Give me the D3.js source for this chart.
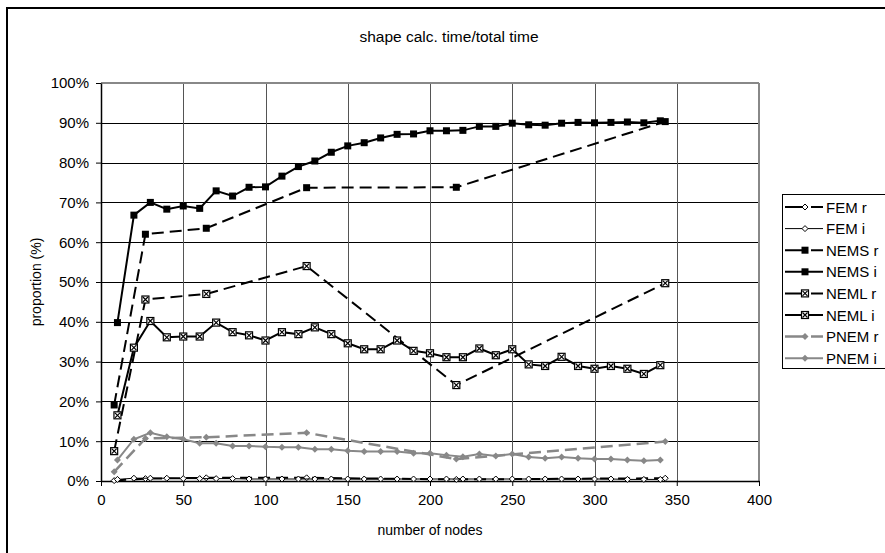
<!DOCTYPE html>
<html>
<head>
<meta charset="utf-8">
<script src="https://cdn.jsdelivr.net/npm/d3@7"></script>
<style>
  body { margin: 0; background: #fff; }
  text { font-family: "Liberation Sans", Arial, sans-serif; }
</style>
</head>
<body>
<div id="chart"></div>
<script>
// x positions: "r" runs use cube meshes, "i" runs every 10 nodes
const nodesR = [8, 27, 64, 125, 216, 343];
const nodesI = [10, 20, 30, 40, 50, 60, 70, 80, 90, 100, 110, 120, 130, 140, 150, 160, 170,
    180, 190, 200, 210, 220, 230, 240, 250, 260, 270, 280, 290, 300, 310, 320, 330, 340];

const femR = [0.1, 0.6, 0.8, 0.8, 0.4, 0.7];
const femI = [0.4, 0.7, 0.7, 0.7, 0.6, 0.6, 0.6, 0.6, 0.5, 0.5, 0.5, 0.5, 0.5, 0.5, 0.5, 0.5, 0.5,
    0.5, 0.5, 0.5, 0.5, 0.5, 0.5, 0.5, 0.5, 0.5, 0.5, 0.5, 0.5, 0.5, 0.5, 0.4, 0.4, 0.4];
const nemsR = [19.1, 62.0, 63.5, 73.7, 73.8, 90.3];
const nemsI = [39.8, 66.8, 70.0, 68.3, 69.1, 68.5, 72.9, 71.6, 73.8, 73.9, 76.6, 79.0, 80.4, 82.6, 84.2, 85.0, 86.2,
    87.1, 87.2, 88.0, 88.0, 88.1, 89.1, 89.1, 89.9, 89.5, 89.4, 89.9, 90.1, 90.0, 90.1, 90.2, 90.0, 90.5];
const nemlR = [7.5, 45.6, 47.0, 54.0, 24.1, 49.7];
const nemlI = [16.5, 33.5, 40.2, 36.1, 36.3, 36.3, 39.8, 37.4, 36.6, 35.3, 37.4, 36.9, 38.6, 36.9, 34.6, 33.1, 33.1,
    35.3, 32.7, 32.1, 31.1, 31.1, 33.3, 31.6, 33.1, 29.3, 28.9, 31.2, 28.9, 28.2, 28.9, 28.2, 26.9, 29.1];
const pnemR = [2.3, 10.7, 11.0, 12.1, 5.5, 9.9];
const pnemI = [5.3, 10.5, 12.1, 11.1, 10.5, 9.5, 9.5, 8.8, 8.8, 8.6, 8.5, 8.5, 8.0, 8.0, 7.6, 7.4, 7.4,
    7.4, 7.0, 7.0, 6.5, 6.1, 6.8, 6.3, 6.8, 6.0, 5.7, 6.0, 5.7, 5.5, 5.5, 5.3, 5.1, 5.3];

const xTicks = [0, 50, 100, 150, 200, 250, 300, 350, 400];
const yTicks = [0, 10, 20, 30, 40, 50, 60, 70, 80, 90, 100];

const series = [
    {name: "FEM r", xs: nodesR, ys: femR, color: "#000", width: 2, dash: "12,6", marker: "diamondOpen"},
    {name: "FEM i", xs: nodesI, ys: femI, color: "#000", width: 1, dash: null, marker: "diamondOpen"},
    {name: "NEMS r", xs: nodesR, ys: nemsR, color: "#000", width: 2, dash: "12,6", marker: "square"},
    {name: "NEMS i", xs: nodesI, ys: nemsI, color: "#000", width: 2, dash: null, marker: "square"},
    {name: "NEML r", xs: nodesR, ys: nemlR, color: "#000", width: 2, dash: "12,6", marker: "boxX"},
    {name: "NEML i", xs: nodesI, ys: nemlI, color: "#000", width: 2, dash: null, marker: "boxX"},
    {name: "PNEM r", xs: nodesR, ys: pnemR, color: "#888", width: 2.5, dash: "12,6", marker: "diamond"},
    {name: "PNEM i", xs: nodesI, ys: pnemI, color: "#888", width: 2, dash: null, marker: "diamond"}
];

const W = 885, H = 553;
const svg = d3.select("#chart").append("svg")
    .attr("width", W)
    .attr("height", H);

svg.append("rect").attr("width", W).attr("height", H).attr("fill", "#fff");
svg.append("rect")
    .attr("x", 7).attr("y", 8)
    .attr("width", W + 10).attr("height", H + 10)
    .attr("fill", "none").attr("stroke", "#000").attr("stroke-width", 2);

const x = d3.scaleLinear().domain([0, 400]).range([101, 759]);
const y = d3.scaleLinear().domain([0, 100]).range([481, 83]);

// grid
const grid = svg.append("g");
grid.selectAll(".hg").data(yTicks.slice(1, -1)).enter().append("line")
    .attr("x1", x(0)).attr("x2", x(400))
    .attr("y1", d => Math.round(y(d)) + 0.5).attr("y2", d => Math.round(y(d)) + 0.5)
    .attr("stroke", "#000").attr("stroke-width", 1);
grid.selectAll(".vg").data(xTicks.slice(1, -1)).enter().append("line")
    .attr("x1", d => Math.round(x(d)) + 0.5).attr("x2", d => Math.round(x(d)) + 0.5)
    .attr("y1", y(100)).attr("y2", y(0))
    .attr("stroke", "#555").attr("stroke-width", 1);
// plot frame top/right
grid.append("line").attr("x1", x(0)).attr("x2", x(400)).attr("y1", y(100)).attr("y2", y(100))
    .attr("stroke", "#888").attr("stroke-width", 2);
grid.append("line").attr("x1", x(400)).attr("x2", x(400)).attr("y1", y(100)).attr("y2", y(0))
    .attr("stroke", "#888").attr("stroke-width", 2);

// axes
const yAxis = svg.append("g")
    .attr("transform", `translate(${x(0)},0)`)
    .call(d3.axisLeft(y).tickValues(yTicks).tickFormat(d => d + "%").tickSize(5).tickSizeOuter(0));
const xAxis = svg.append("g")
    .attr("transform", `translate(0,${y(0)})`)
    .call(d3.axisBottom(x).tickValues(xTicks).tickSize(5).tickSizeOuter(0));
[yAxis, xAxis].forEach(a => {
    a.select(".domain").attr("stroke", "#000").attr("stroke-width", 1.5);
    a.selectAll(".tick line").attr("stroke", "#000");
    a.selectAll("text").attr("fill", "#000").style("font-size", "15px")
        .style("font-family", "'Liberation Sans', Arial, sans-serif");
});
yAxis.selectAll("text").attr("x", -12);
xAxis.selectAll("text").attr("y", 13);

// titles
svg.append("text").attr("x", 449).attr("y", 42).attr("text-anchor", "middle")
    .style("font-size", "15.5px").text("shape calc. time/total time");
svg.append("text").attr("x", 430).attr("y", 535).attr("text-anchor", "middle")
    .style("font-size", "14px").text("number of nodes");
svg.append("text").attr("transform", `translate(41,${(y(0) + y(100)) / 2}) rotate(-90)`)
    .attr("text-anchor", "middle").style("font-size", "14px").text("proportion (%)");

function drawMarker(g, type, cx, cy, color) {
    if (type === "square") {
        g.append("rect").attr("x", cx - 3.5).attr("y", cy - 3.5).attr("width", 7).attr("height", 7)
            .attr("fill", "#000");
    } else if (type === "boxX") {
        g.append("rect").attr("x", cx - 3.5).attr("y", cy - 3.5).attr("width", 7).attr("height", 7)
            .attr("fill", "#fff").attr("stroke", "#000").attr("stroke-width", 1.2);
        g.append("path").attr("d", `M${cx - 2.5},${cy - 2.5}L${cx + 2.5},${cy + 2.5}M${cx - 2.5},${cy + 2.5}L${cx + 2.5},${cy - 2.5}`)
            .attr("stroke", "#000").attr("stroke-width", 1.2);
    } else if (type === "diamondOpen") {
        g.append("path").attr("d", `M${cx},${cy - 3}L${cx + 3},${cy}L${cx},${cy + 3}L${cx - 3},${cy}Z`)
            .attr("fill", "#fff").attr("stroke", "#000").attr("stroke-width", 1);
    } else {
        g.append("path").attr("d", `M${cx},${cy - 3.5}L${cx + 3.5},${cy}L${cx},${cy + 3.5}L${cx - 3.5},${cy}Z`)
            .attr("fill", color);
    }
}

const line = d3.line().x(d => x(d[0])).y(d => y(d[1]));

series.forEach(s => {
    const pts = s.xs.map((v, i) => [v, s.ys[i]]);
    const g = svg.append("g");
    g.append("path").attr("d", line(pts))
        .attr("fill", "none").attr("stroke", s.color).attr("stroke-width", s.width)
        .attr("stroke-dasharray", s.dash);
    pts.forEach(p => drawMarker(g, s.marker, x(p[0]), y(p[1]), s.color));
});

// legend
const legend = svg.append("g");
legend.append("rect").attr("x", 782.5).attr("y", 194.5).attr("width", 120).attr("height", 174)
    .attr("fill", "#fff").attr("stroke", "#000").attr("stroke-width", 1);
series.forEach((s, i) => {
    const ly = 207 + i * 21.6;
    const g = legend.append("g");
    g.append("line").attr("x1", 785).attr("x2", 823).attr("y1", ly).attr("y2", ly)
        .attr("stroke", s.color).attr("stroke-width", s.width)
        .attr("stroke-dasharray", s.dash ? "22,4" : null);
    drawMarker(g, s.marker, 805, ly, s.color);
    g.append("text").attr("x", 826).attr("y", ly + 5.5).style("font-size", "15px").text(s.name);
});
</script>
</body>
</html>
